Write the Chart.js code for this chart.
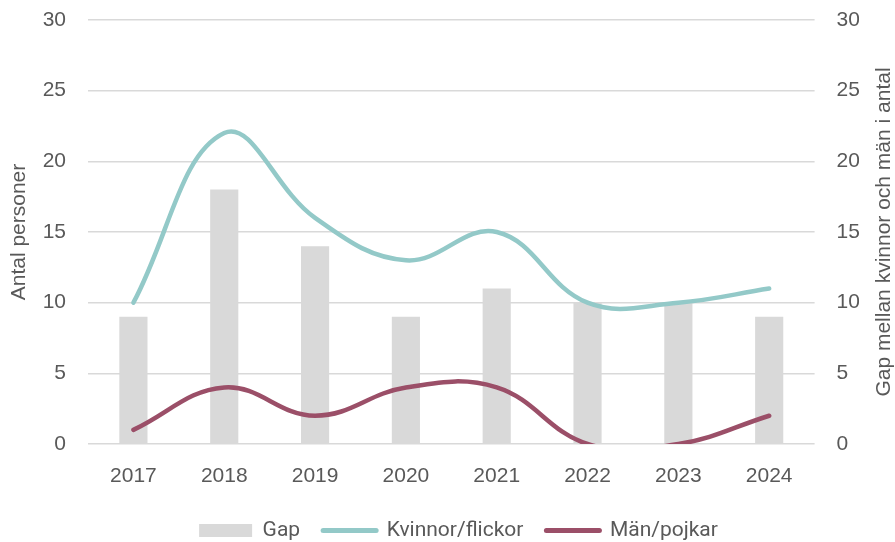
<!DOCTYPE html>
<html>
<head>
<meta charset="utf-8">
<script src="https://cdn.jsdelivr.net/npm/chart.js@4/dist/chart.umd.min.js"></script>
<style>
    html, body { margin: 0; padding: 0; background: #ffffff; }
    #wrap { width: 895px; height: 542px; }
</style>
</head>
<body>
<div id="wrap"><canvas id="gapChart" width="895" height="542"></canvas></div>
<script>
// Chart data
const years = ['2017', '2018', '2019', '2020', '2021', '2022', '2023', '2024'];
const gap = [9, 18, 14, 9, 11, 10, 10, 9];
const kvinnor = [10, 22, 16, 13, 15, 10, 10, 11];
const man = [1, 4, 2, 4, 4, 0, 0, 2];
const yMax = 30;
const yStep = 5;

const textColor = '#595959';
const gridColor = '#d9d9d9';
const tickFont = { family: 'Liberation Sans', size: 21 };
const rightTitle = 'Gap mellan kvinnor och män i antal';

// Right axis title reads bottom-to-top, so draw it ourselves
const rightTitlePlugin = {
    id: 'rightTitle',
    afterDraw(chart) {
        const c = chart.ctx;
        const area = chart.chartArea;
        c.save();
        c.translate(884, (area.top + area.bottom) / 2);
        c.rotate(-Math.PI / 2);
        c.font = '21px "Liberation Sans"';
        c.fillStyle = textColor;
        c.textAlign = 'center';
        c.textBaseline = 'middle';
        c.fillText(rightTitle, 0, 0);
        c.restore();
    }
};

// Nudge the legend to where it sits in the reference
const legendShiftPlugin = {
    id: 'legendShift',
    afterLayout(chart) {
        const lg = chart.legend;
        if (!lg) return;
        lg.left += 29;
        lg.right += 29;
        lg.top += 9;
        lg.bottom += 9;
    }
};

// Fixed axis sizes so the plot area lands where the reference has it
function fitLeft(scale) {
    scale.width = 88;
    scale.paddingTop = 20;
    scale.paddingBottom = 0;
}
function fitRight(scale) {
    scale.width = 44.4;
    scale.paddingTop = 20;
    scale.paddingBottom = 0;
}
function fitBottom(scale) {
    scale.height = 44;
    scale.paddingLeft = 0;
    scale.paddingRight = 0;
}

const ctx = document.getElementById('gapChart');

new Chart(ctx, {
    type: 'bar',
    data: {
        labels: years,
        datasets: [{
            type: 'bar',
            label: 'Gap',
            data: gap,
            yAxisID: 'y1',
            backgroundColor: '#d9d9d9',
            borderWidth: 0,
            barPercentage: 0.31,
            categoryPercentage: 1,
            order: 2
        }, {
            type: 'line',
            label: 'Kvinnor/flickor',
            data: kvinnor,
            yAxisID: 'y',
            borderColor: '#93c9c8',
            backgroundColor: '#93c9c8',
            borderWidth: 4.5,
            borderCapStyle: 'round',
            tension: 0.4,
            capBezierPoints: false,
            pointRadius: 0,
            order: 1
        }, {
            type: 'line',
            label: 'Män/pojkar',
            data: man,
            yAxisID: 'y',
            borderColor: '#9b4f68',
            backgroundColor: '#9b4f68',
            borderWidth: 4.5,
            borderCapStyle: 'round',
            tension: 0.4,
            capBezierPoints: false,
            pointRadius: 0,
            order: 0
        }]
    },
    options: {
        responsive: false,
        animation: false,
        layout: {
            padding: { top: 0, left: 0, right: 36, bottom: 0 }
        },
        plugins: {
            tooltip: { enabled: false },
            legend: {
                display: true,
                position: 'bottom',
                labels: {
                    color: textColor,
                    font: { family: 'Roboto', size: 21 },
                    usePointStyle: true,
                    pointStyleWidth: 53,
                    boxHeight: 13,
                    padding: 23,
                    sort: (a, b) => a.datasetIndex - b.datasetIndex,
                    generateLabels: function(chart) {
                        const items = Chart.defaults.plugins.legend.labels.generateLabels(chart);
                        items.forEach(item => {
                            item.pointStyle = item.datasetIndex === 0 ? 'rect' : 'line';
                            item.lineCap = 'round';
                            if (item.datasetIndex > 0) item.lineWidth = 5;
                        });
                        return items;
                    }
                }
            }
        },
        scales: {
            x: {
                afterFit: fitBottom,
                grid: { display: false, drawTicks: false },
                border: { display: false },
                ticks: { color: textColor, font: tickFont, padding: 20 }
            },
            y: {
                position: 'left',
                min: 0,
                max: yMax,
                afterFit: fitLeft,
                grid: { color: gridColor, lineWidth: 1.5, drawTicks: false },
                border: { display: false },
                ticks: { color: textColor, font: tickFont, padding: 22, stepSize: yStep },
                title: {
                    display: true,
                    text: 'Antal personer',
                    color: textColor,
                    font: { family: 'Liberation Sans', size: 21, lineHeight: 1 },
                    padding: { top: 9, bottom: 13 }
                }
            },
            y1: {
                position: 'right',
                min: 0,
                max: yMax,
                afterFit: fitRight,
                grid: { display: false, drawTicks: false },
                border: { display: false },
                ticks: { color: textColor, font: tickFont, padding: 22, stepSize: yStep }
            }
        }
    },
    plugins: [rightTitlePlugin, legendShiftPlugin]
});
</script>
</body>
</html>
